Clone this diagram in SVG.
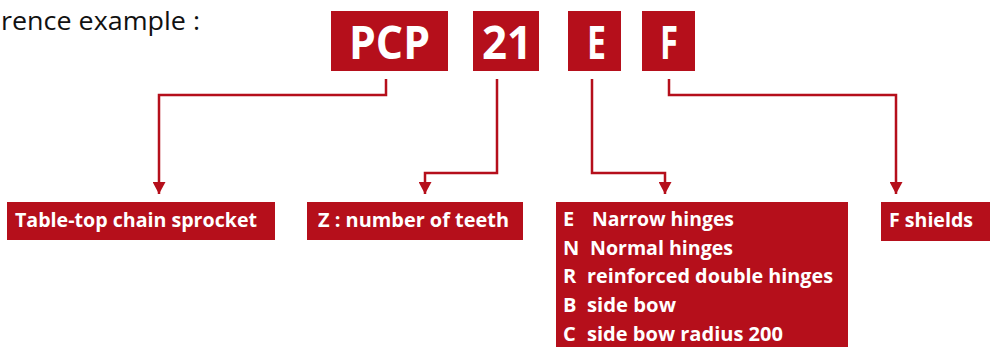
<svg xmlns="http://www.w3.org/2000/svg" width="990" height="347" viewBox="0 0 990 347">
<style>
.box{fill:#B50F1B}
.big{font-family:"Open Sans","Liberation Sans",sans-serif;font-weight:bold;font-size:47px;fill:#fff}
.lbl{font-family:"Open Sans","Liberation Sans",sans-serif;font-weight:bold;font-size:20px;fill:#fff}
.title{font-family:"Open Sans","Liberation Sans",sans-serif;font-size:26px;fill:#111}
.con{fill:none;stroke:#B50F1B;stroke-width:2.5}
</style>
<defs>
<marker id="ah" markerUnits="userSpaceOnUse" markerWidth="14" markerHeight="13" refX="13" refY="7" orient="auto" viewBox="0 0 13 14">
<path d="M0,0 L13,7 L0,14 Z" fill="#B50F1B"/>
</marker>
</defs>
<text class="title" x="1" y="30" textLength="199" lengthAdjust="spacingAndGlyphs">rence example :</text>
<g id="pcp"><rect class="box" x="331" y="11" width="117" height="60"/><text class="big" x="349" y="59" textLength="81" lengthAdjust="spacingAndGlyphs">PCP</text></g>
<g id="n21"><rect class="box" x="473" y="11" width="66" height="60"/><text class="big" x="482" y="59" textLength="50" lengthAdjust="spacingAndGlyphs">21</text></g>
<g id="e"><rect class="box" x="568" y="11" width="53" height="60"/><text class="big" x="587" y="59" textLength="19" lengthAdjust="spacingAndGlyphs">E</text></g>
<g id="f"><rect class="box" x="642" y="11" width="53" height="60"/><text class="big" x="660" y="59" textLength="18" lengthAdjust="spacingAndGlyphs">F</text></g>
<g id="connectors">
<path class="con" d="M386,79 V95 H159 V194" marker-end="url(#ah)"/>
<path class="con" d="M497,79 V173 H425 V194" marker-end="url(#ah)"/>
<path class="con" d="M592,79 V173 H665 V194" marker-end="url(#ah)"/>
<path class="con" d="M669,79 V95 H896 V194" marker-end="url(#ah)"/>
</g>
<g id="sprocket"><rect class="box" x="7" y="202" width="268" height="38"/><text class="lbl" x="15" y="227" textLength="242" lengthAdjust="spacingAndGlyphs">Table-top chain sprocket</text></g>
<g id="teeth"><rect class="box" x="307" y="202" width="216" height="38"/><text class="lbl" x="318" y="227" textLength="191" lengthAdjust="spacingAndGlyphs">Z : number of teeth</text></g>
<g id="hinges"><rect class="box" x="556" y="202" width="292" height="145"/>
<text class="lbl" x="563" y="226">E</text><text class="lbl" x="592" y="226" textLength="142" lengthAdjust="spacingAndGlyphs">Narrow hinges</text>
<text class="lbl" x="563" y="255">N</text><text class="lbl" x="590" y="255" textLength="143" lengthAdjust="spacingAndGlyphs">Normal hinges</text>
<text class="lbl" x="563" y="283">R</text><text class="lbl" x="587" y="283" textLength="246" lengthAdjust="spacingAndGlyphs">reinforced double hinges</text>
<text class="lbl" x="563" y="312">B</text><text class="lbl" x="587" y="312" textLength="89" lengthAdjust="spacingAndGlyphs">side bow</text>
<text class="lbl" x="563" y="341">C</text><text class="lbl" x="587" y="341" textLength="196" lengthAdjust="spacingAndGlyphs">side bow radius 200</text>
</g>
<g id="shields"><rect class="box" x="881" y="202" width="109" height="39"/><text class="lbl" x="889" y="227" textLength="84" lengthAdjust="spacingAndGlyphs">F shields</text></g>
</svg>
